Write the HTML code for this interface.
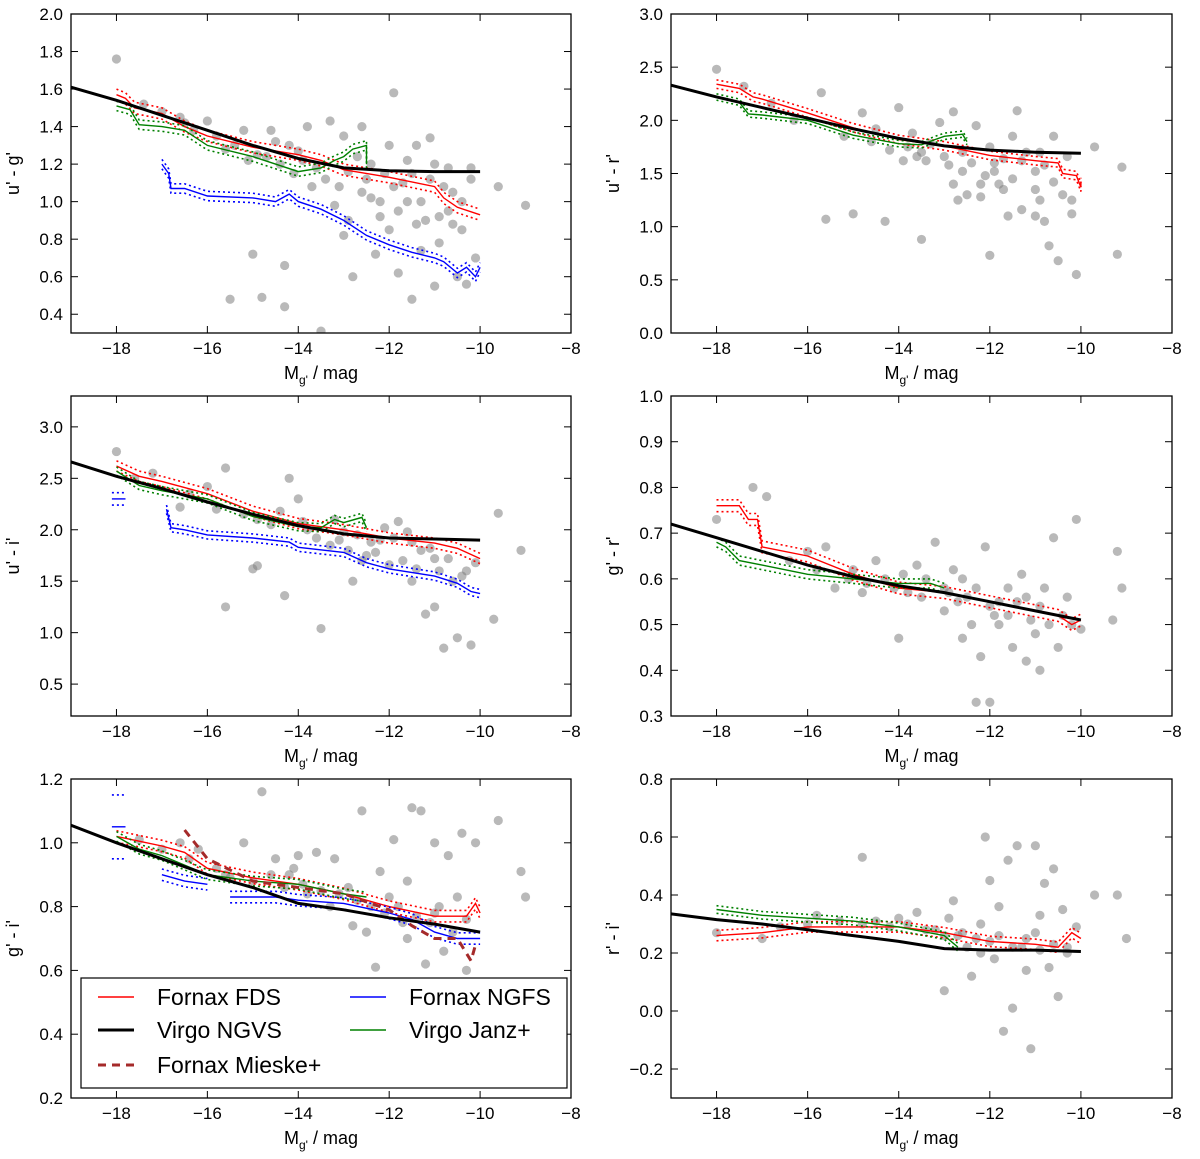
<!DOCTYPE html>
<html><head><meta charset="utf-8">
<style>
html,body{margin:0;padding:0;background:#fff;}
svg{display:block;font-family:"Liberation Sans","DejaVu Sans",sans-serif;}
</style></head>
<body>
<svg id="chart" width="1200" height="1159" viewBox="0 0 1200 1159" xmlns="http://www.w3.org/2000/svg"></svg>
<script>
// ===== Data =====
// Panel 1: u'-g'
const p1ScatX=[-18,-17.4,-17,-16.5,-16,-15.8,-15.5,-15.2,-15,-14.8,-14.6,-14.3,-14.3,-14.2,-14,-13.8,-13.5,-13.6,-13.3,-13,-13,-12.8,-12.6,-12.5,-12.4,-12.2,-12,-12,-11.9,-11.8,-11.7,-11.6,-11.5,-11.4,-11.3,-11.2,-11,-11,-10.9,-10.7,-10.6,-10.5,-10.4,-10.3,-10.2,-10.1,-9.6,-9.0,-12.3,-12.7,-13.2,-11.1,-15.6,-16.3,-14.9,
 -15.4,-15.1,-14.7,-14.4,-14.1,-13.9,-13.4,-13.1,-12.9,-12.6,-12.4,-12.1,-11.9,-11.8,-11.6,-11.5,-11.3,-11.1,-10.9,-10.8,-10.6,-10.4,-10.2,-12.2,-11.4,-10.7,-12.9,-13.7,-14.5,-16.6];
const p1ScatY=[1.76,1.52,1.48,1.42,1.43,1.35,0.48,1.38,0.72,0.49,1.38,0.66,0.44,1.30,1.27,1.40,0.31,1.18,1.43,1.35,0.82,0.60,1.40,1.12,1.02,0.92,1.30,0.85,1.58,0.62,1.10,1.00,0.48,1.30,0.74,0.90,1.20,0.55,0.78,1.18,0.88,0.60,1.00,0.56,1.12,0.70,1.08,0.98,0.72,1.24,0.98,1.34,1.28,1.38,1.25,
 1.30,1.22,1.24,1.20,1.15,1.22,1.12,1.08,1.16,1.05,1.20,1.15,1.08,0.95,1.22,1.15,1.00,1.12,0.92,1.08,1.05,0.85,1.18,1.00,0.88,0.95,0.90,1.08,1.32,1.45];
const p1BlackX=[-19,-18,-17,-16,-15,-14,-13,-12,-11,-10];
const p1BlackY=[1.61,1.54,1.46,1.38,1.30,1.23,1.18,1.165,1.16,1.16];
const p1RedX=[-18,-17.8,-17.6,-17,-16.5,-16,-15,-14,-13.5,-13,-12,-11,-10.8,-10.5,-10];
const p1RedY=[1.57,1.55,1.50,1.47,1.40,1.35,1.29,1.25,1.22,1.17,1.13,1.08,1.02,0.97,0.93];
const p1GreenX=[-18,-17.7,-17.5,-17,-16.5,-16,-15,-14.5,-14,-13.5,-13.2,-13,-12.8,-12.5,-12.5];
const p1GreenY=[1.51,1.49,1.41,1.40,1.38,1.30,1.24,1.20,1.16,1.18,1.22,1.24,1.28,1.30,1.20];
const p1BlueX=[-17,-16.85,-16.8,-16.5,-16,-15,-14.5,-14.2,-14,-13.5,-13,-12.5,-12,-11.5,-11,-10.8,-10.5,-10.3,-10.1,-10];
const p1BlueY=[1.20,1.15,1.07,1.07,1.03,1.02,1.00,1.04,1.00,0.96,0.90,0.82,0.77,0.73,0.70,0.68,0.62,0.65,0.60,0.65];

// Panel 2: u'-r'
const p2ScatX=[-18,-17.4,-16.8,-16.3,-15.7,-15.6,-15,-14.8,-14.5,-14.3,-14,-13.7,-13.5,-13.4,-13,-12.8,-12.6,-12.5,-12.2,-12,-12,-11.8,-11.6,-11.5,-11.4,-11.3,-11,-11,-10.8,-10.7,-10.6,-10.5,-10.3,-10.2,-10.1,-9.7,-9.1,-9.2,-13.1,-12.3,-11.9,-10.9,-12.7,-11.7,-13.8,
 -15.2,-14.6,-14.2,-13.9,-13.6,-13.3,-12.9,-12.6,-12.4,-12.1,-11.9,-11.7,-11.5,-11.2,-11,-10.8,-10.6,-10.4,-10.2,-12.8,-11.3,-10.9,-13.5,-12.2];
const p2ScatY=[2.48,2.32,2.16,2.00,2.26,1.07,1.12,2.07,1.92,1.05,2.12,1.88,0.88,1.62,1.66,2.08,1.52,1.30,1.28,1.75,0.73,1.40,1.10,1.85,2.09,1.16,1.52,1.10,1.05,0.82,1.85,0.68,1.66,1.12,0.55,1.75,1.56,0.74,1.98,1.95,1.60,1.70,1.25,1.35,1.75,
 1.85,1.80,1.72,1.62,1.66,1.78,1.58,1.70,1.60,1.48,1.52,1.64,1.45,1.70,1.35,1.58,1.42,1.30,1.25,1.40,1.62,1.25,1.70,1.40];
const p2BlackX=[-19,-18,-17,-16,-15,-14,-13,-12,-11,-10];
const p2BlackY=[2.33,2.22,2.12,2.02,1.92,1.83,1.76,1.72,1.70,1.69];
const p2RedX=[-18,-17.5,-17.2,-17,-16,-15,-14,-13,-12,-11,-10.5,-10.4,-10.1,-10,-10];
const p2RedY=[2.34,2.30,2.22,2.20,2.07,1.93,1.82,1.76,1.67,1.62,1.60,1.50,1.48,1.37,1.42];
const p2GreenX=[-18,-17.5,-17.3,-17,-16,-15,-14,-13.5,-13.2,-13,-12.6,-12.5];
const p2GreenY=[2.22,2.17,2.06,2.05,2.00,1.86,1.78,1.77,1.82,1.85,1.87,1.80];

// Panel 3: u'-i'
const p3ScatX=[-18,-17.6,-17.2,-16.6,-16,-15.6,-15.6,-15,-14.9,-14.3,-14.2,-14,-13.5,-13.2,-13,-12.8,-12.6,-12.2,-12,-11.8,-11.5,-11.3,-11.2,-11,-11,-10.8,-10.6,-10.5,-10.3,-10.2,-9.6,-9.1,-9.7,-14.9,-12.4,-13.8,-11.6,-12.9,
 -16.4,-15.8,-15.2,-14.6,-14.4,-13.9,-13.6,-13.3,-12.7,-12.5,-12.1,-11.9,-11.7,-11.4,-11.1,-10.9,-10.7,-10.4,-10.1,-12.3,-11.5,-13.1];
const p3ScatY=[2.76,2.50,2.55,2.22,2.42,2.60,1.25,1.62,2.10,1.36,2.50,2.30,1.04,2.10,1.98,1.50,1.70,1.90,1.66,2.08,1.50,1.80,1.18,1.72,1.25,0.85,1.50,0.95,1.60,0.88,2.16,1.80,1.13,1.65,1.88,2.0,1.98,1.80,
 2.35,2.20,2.15,2.05,2.18,2.08,1.92,1.85,1.95,1.75,2.02,1.92,1.70,1.62,1.82,1.60,1.72,1.55,1.68,1.78,1.88,1.90];
const p3BlackX=[-19,-18,-17,-16,-15,-14,-13,-12,-11,-10];
const p3BlackY=[2.66,2.52,2.40,2.27,2.15,2.04,1.96,1.92,1.91,1.90];
const p3RedX=[-18,-17.5,-17,-16,-15,-14,-13,-12,-11,-10.5,-10];
const p3RedY=[2.62,2.52,2.47,2.35,2.18,2.06,2.00,1.92,1.87,1.82,1.72];
const p3GreenX=[-18,-17.5,-17,-16,-15,-14,-13.5,-13.2,-13,-12.6,-12.5];
const p3GreenY=[2.57,2.43,2.38,2.30,2.13,2.03,2.02,2.10,2.07,2.12,2.02];
const p3BlueAX=[-18.1,-17.8];
const p3BlueAY=[2.30,2.30];
const p3BlueX=[-16.9,-16.8,-16.5,-16,-15,-14.2,-14,-13,-12.5,-12,-11,-10.5,-10.2,-10];
const p3BlueY=[2.20,2.02,2.00,1.95,1.92,1.88,1.83,1.78,1.68,1.62,1.55,1.48,1.40,1.38];

// Panel 4: g'-r'
const p4ScatX=[-18,-17.2,-16.9,-16,-15.6,-15.4,-15,-14.8,-14.5,-14.1,-14,-13.6,-13.5,-13.2,-13,-12.8,-12.6,-12.4,-12.2,-12.1,-12,-12.3,-11.8,-11.6,-11.5,-11.3,-11.2,-11,-10.9,-10.8,-10.6,-10.5,-10.3,-10.1,-10.0,-9.3,-9.2,-9.1,-13.9,-12.9,-11.9,
 -16.4,-15.8,-15.1,-14.7,-14.3,-13.8,-13.4,-13.0,-12.7,-12.5,-12.3,-12.0,-11.8,-11.6,-11.4,-11.1,-10.9,-10.7,-10.4,-10.2,-12.6,-11.2];
const p4ScatY=[0.73,0.80,0.78,0.66,0.67,0.58,0.62,0.57,0.64,0.58,0.47,0.63,0.56,0.68,0.53,0.62,0.47,0.50,0.43,0.67,0.33,0.33,0.55,0.58,0.45,0.61,0.42,0.48,0.40,0.58,0.69,0.45,0.56,0.73,0.49,0.51,0.66,0.58,0.61,0.57,0.52,
 0.64,0.62,0.60,0.59,0.60,0.57,0.60,0.58,0.55,0.56,0.58,0.54,0.50,0.52,0.55,0.51,0.54,0.50,0.52,0.50,0.60,0.56];
const p4BlackX=[-19,-18,-17,-16,-15,-14,-13,-12,-11,-10];
const p4BlackY=[0.72,0.69,0.66,0.63,0.605,0.585,0.57,0.55,0.53,0.51];
const p4RedX=[-18,-17.5,-17.3,-17.1,-17,-16,-15,-14,-13,-12,-11,-10.5,-10.2,-10];
const p4RedY=[0.76,0.76,0.73,0.73,0.67,0.65,0.61,0.58,0.57,0.55,0.53,0.52,0.50,0.51];
const p4GreenX=[-18,-17.8,-17.5,-17,-16,-15,-14,-13.3,-13];
const p4GreenY=[0.68,0.67,0.64,0.63,0.61,0.60,0.59,0.59,0.58];

// Panel 5: g'-i'
const p5ScatX=[-17.5,-16.6,-15.8,-15.2,-14.8,-14.5,-14.2,-14,-13.6,-13.2,-12.8,-12.5,-12.3,-12,-11.9,-11.7,-11.5,-11.3,-11.2,-11,-11,-10.8,-10.7,-10.5,-10.4,-10.3,-10.1,-9.6,-9.1,-9.0,-12.6,-13.8,-15.5,-16.2,-11.6,-12.2,
 -17,-16.4,-15.6,-15,-14.6,-14.3,-13.9,-13.5,-13.1,-12.7,-12.4,-12.1,-11.8,-11.4,-11.1,-10.9,-10.6,-10.3,-12.9,-13.3,-14.1,-11.6];
const p5ScatY=[1.01,1.00,0.92,1.00,1.16,0.95,0.90,0.96,0.97,0.95,0.74,0.72,0.61,0.83,1.01,0.75,1.11,1.10,0.62,0.78,1.00,0.66,0.96,0.83,1.03,0.60,1.00,1.07,0.91,0.83,1.10,0.84,0.89,0.98,0.88,0.91,
 0.98,0.95,0.90,0.88,0.90,0.86,0.87,0.85,0.84,0.82,0.80,0.78,0.80,0.77,0.75,0.80,0.72,0.76,0.86,0.80,0.92,0.70];
const p5BlackX=[-19,-18,-17,-16,-15,-14,-13,-12,-11,-10];
const p5BlackY=[1.055,1.0,0.95,0.90,0.86,0.81,0.79,0.765,0.745,0.72];
const p5RedX=[-18,-17,-16.5,-16,-15,-14,-13,-12,-11,-10.3,-10.1,-10];
const p5RedY=[1.02,0.99,0.97,0.92,0.89,0.87,0.84,0.80,0.77,0.77,0.81,0.78];
const p5GreenX=[-18,-17.5,-17,-16,-15,-14,-13,-12.5];
const p5GreenY=[1.02,0.98,0.96,0.90,0.88,0.87,0.84,0.83];
const p5BlueAX=[-18.1,-17.8];
const p5BlueAY=[1.05,1.05];
const p5BlueBX=[-17,-16.5,-16];
const p5BlueBY=[0.90,0.88,0.87];
const p5BlueX=[-15.5,-14.5,-14,-13,-12,-11.5,-11,-10.5,-10];
const p5BlueY=[0.83,0.83,0.82,0.81,0.78,0.76,0.72,0.70,0.70];
const p5MieskeX=[-16.5,-16,-15,-14,-13,-12,-11.5,-11,-10.5,-10.2,-10.1];
const p5MieskeY=[1.04,0.95,0.88,0.86,0.84,0.79,0.74,0.70,0.70,0.63,0.68];

// Panel 6: r'-i'
const p6ScatX=[-18,-17,-16.6,-15.8,-14.8,-14.5,-14,-13.6,-13.2,-13,-12.8,-12.5,-12.4,-12.2,-12.1,-12,-11.9,-11.7,-11.6,-11.4,-11.3,-11.2,-11.1,-11,-10.9,-10.8,-10.7,-10.6,-10.5,-10.4,-10.3,-10.1,-9.7,-9.2,-9.0,-11.5,-12.7,-11.8,
 -16,-15.3,-14.8,-14.2,-13.8,-13.4,-13,-12.6,-12.3,-12,-11.8,-11.5,-11.2,-10.9,-10.6,-10.3,-12.9,-11,-12.2];
const p6ScatY=[0.27,0.25,0.29,0.33,0.53,0.31,0.32,0.34,0.28,0.07,0.38,0.22,0.12,0.30,0.60,0.45,0.18,-0.07,0.52,0.57,0.22,0.14,-0.13,0.57,0.33,0.44,0.15,0.49,0.05,0.35,0.22,0.29,0.40,0.40,0.25,0.01,0.26,0.36,
 0.30,0.31,0.30,0.29,0.30,0.28,0.26,0.27,0.25,0.24,0.26,0.22,0.25,0.21,0.23,0.20,0.32,0.27,0.20];
const p6BlackX=[-19,-18,-17,-16,-15,-14,-13,-12,-11,-10];
const p6BlackY=[0.335,0.315,0.30,0.28,0.26,0.24,0.215,0.21,0.21,0.205];
const p6RedX=[-18,-17,-16,-15,-14,-13,-12,-11,-10.5,-10.2,-10];
const p6RedY=[0.26,0.27,0.29,0.29,0.29,0.27,0.24,0.23,0.22,0.27,0.25];
const p6GreenX=[-18,-17,-16,-15,-14,-13,-12.7];
const p6GreenY=[0.35,0.33,0.32,0.31,0.29,0.26,0.22];

const xTicks=[-18,-16,-14,-12,-10,-8];
const p1Ticks=[0.4,0.6,0.8,1.0,1.2,1.4,1.6,1.8,2.0];
const p2Ticks=[0.0,0.5,1.0,1.5,2.0,2.5,3.0];
const p3Ticks=[0.5,1.0,1.5,2.0,2.5,3.0];
const p4Ticks=[0.3,0.4,0.5,0.6,0.7,0.8,0.9,1.0];
const p5Ticks=[0.2,0.4,0.6,0.8,1.0,1.2];
const p6Ticks=[-0.2,0.0,0.2,0.4,0.6,0.8];

// ===== Drawing =====
const NS="http://www.w3.org/2000/svg";
const svg=document.getElementById('chart');
function mk(tag,attrs,parent){const e=document.createElementNS(NS,tag);for(const k in attrs)e.setAttribute(k,attrs[k]);(parent||svg).appendChild(e);return e;}

const panels=[
 {id:'u-g',x0:71,x1:571,y0:14,y1:333,ymin:0.3,ymax:2.0,ticks:p1Ticks,dec:1,label:"u' - g'",scat:[p1ScatX,p1ScatY],
  lines:[[p1RedX,p1RedY,'red',0.03],[p1GreenX,p1GreenY,'green',0.025],[p1BlueX,p1BlueY,'blue',0.025],[p1BlackX,p1BlackY,'black',0]]},
 {id:'u-r',x0:671,x1:1172,y0:14,y1:333,ymin:0.0,ymax:3.0,ticks:p2Ticks,dec:1,label:"u' - r'",scat:[p2ScatX,p2ScatY],
  lines:[[p2RedX,p2RedY,'red',0.04],[p2GreenX,p2GreenY,'green',0.03],[p2BlackX,p2BlackY,'black',0]]},
 {id:'u-i',x0:71,x1:571,y0:396,y1:716,ymin:0.19,ymax:3.3,ticks:p3Ticks,dec:1,label:"u' - i'",scat:[p3ScatX,p3ScatY],
  lines:[[p3RedX,p3RedY,'red',0.05],[p3GreenX,p3GreenY,'green',0.04],[p3BlueAX,p3BlueAY,'blue',0.06],[p3BlueX,p3BlueY,'blue',0.04],[p3BlackX,p3BlackY,'black',0]]},
 {id:'g-r',x0:671,x1:1172,y0:396,y1:716,ymin:0.3,ymax:1.0,ticks:p4Ticks,dec:1,label:"g' - r'",scat:[p4ScatX,p4ScatY],
  lines:[[p4RedX,p4RedY,'red',0.013],[p4GreenX,p4GreenY,'green',0.01],[p4BlackX,p4BlackY,'black',0]]},
 {id:'g-i',x0:71,x1:571,y0:779,y1:1098,ymin:0.2,ymax:1.2,ticks:p5Ticks,dec:1,label:"g' - i'",scat:[p5ScatX,p5ScatY],
  lines:[[p5RedX,p5RedY,'red',0.018],[p5GreenX,p5GreenY,'green',0.015],[p5BlueAX,p5BlueAY,'blue',0.1],[p5BlueBX,p5BlueBY,'blue',0.018],[p5BlueX,p5BlueY,'blue',0.018],[p5MieskeX,p5MieskeY,'#a52a2a',-1],[p5BlackX,p5BlackY,'black',0]]},
 {id:'r-i',x0:671,x1:1172,y0:779,y1:1098,ymin:-0.3,ymax:0.8,ticks:p6Ticks,dec:1,label:"r' - i'",scat:[p6ScatX,p6ScatY],
  lines:[[p6RedX,p6RedY,'red',0.018],[p6GreenX,p6GreenY,'green',0.013],[p6BlackX,p6BlackY,'black',0]]}
];

panels.forEach(p=>{
  const g=mk('g',{});
  
  
  const sx=v=>p.x0+(v-(-19))/11*(p.x1-p.x0);
  const sy=v=>p.y1-(v-p.ymin)/(p.ymax-p.ymin)*(p.y1-p.y0);
  const clipId='clip-'+p.id;
  const cp=mk('clipPath',{id:clipId},g);
  mk('rect',{x:p.x0,y:p.y0,width:p.x1-p.x0,height:p.y1-p.y0},cp);
  const plot=mk('g',{'clip-path':'url(#'+clipId+')'},g);
  const sg=mk('g',{},plot);
  
  
  p.scat[0].forEach((x,i)=>{
    const c=mk('circle',{cx:sx(x),cy:sy(p.scat[1][i]),r:4.6,fill:'#808080','fill-opacity':0.55},sg);
    
    
  });
  p.lines.forEach(l=>{
    const [xs,ys,col,err]=l;
    const pts=(o)=>xs.map((x,i)=>sx(x).toFixed(1)+','+sy(ys[i]+o).toFixed(1)).join(' ');
    if(err>0){
      [err,-err].forEach(o=>{
        const b=mk('polyline',{points:pts(o),fill:'none',stroke:col,'stroke-width':1.6,'stroke-dasharray':'2,3'},plot);
        
        
      });
    }
    const isM=err<0, isB=col==='black';
    const pl=mk('polyline',{points:pts(0),fill:'none',stroke:col,'stroke-width':isB?3:(isM?3:1.4),'stroke-dasharray':isM?'8,6':'none'},plot);
    
    
  });
  const fr=mk('rect',{x:p.x0,y:p.y0,width:p.x1-p.x0,height:p.y1-p.y0,fill:'none',stroke:'#000','stroke-width':1.3},g);
  
  
  xTicks.forEach(t=>{
    const X=sx(t);
    mk('line',{x1:X,x2:X,y1:p.y1,y2:p.y1-7,stroke:'#000','stroke-width':1},g);
    mk('line',{x1:X,x2:X,y1:p.y0,y2:p.y0+7,stroke:'#000','stroke-width':1},g);
    const tx=mk('text',{x:X,y:p.y1+21,'text-anchor':'middle','font-size':17},g);
    tx.textContent=(t<0?'\u2212':'')+Math.abs(t);
    
    
  });
  p.ticks.forEach(t=>{
    const Y=sy(t);
    mk('line',{x1:p.x0,x2:p.x0+7,y1:Y,y2:Y,stroke:'#000','stroke-width':1},g);
    mk('line',{x1:p.x1,x2:p.x1-7,y1:Y,y2:Y,stroke:'#000','stroke-width':1},g);
    const tx=mk('text',{x:p.x0-8,y:Y+6,'text-anchor':'end','font-size':17},g);
    tx.textContent=(t<0?'\u2212':'')+Math.abs(t).toFixed(p.dec);
    
    
  });
  const xl=mk('text',{x:(p.x0+p.x1)/2,y:p.y1+46,'text-anchor':'middle','font-size':18},g);
  xl.innerHTML="M<tspan font-size='12' dy='5'>g'</tspan><tspan dy='-5'> / mag</tspan>";
  
  
  const cy=(p.y0+p.y1)/2;
  const yl=mk('text',{x:0,y:0,'text-anchor':'middle','font-size':18,transform:`translate(${p.x0-52},${cy}) rotate(-90)`},g);
  yl.textContent=p.label;
  
  
});

const lg=mk('g',{});


mk('rect',{x:81,y:978,width:486,height:110,fill:'#fff',stroke:'#000','stroke-width':1.2},lg);
const entries=[
 [98,997,'red',1.4,'none','Fornax FDS','legend-fornax-fds'],
 [350,997,'blue',1.4,'none','Fornax NGFS','legend-fornax-ngfs'],
 [98,1030,'black',3,'none','Virgo NGVS','legend-virgo-ngvs'],
 [350,1030,'green',1.4,'none','Virgo Janz+','legend-virgo-janz'],
 [98,1065,'#a52a2a',3,'8,6','Fornax Mieske+','legend-fornax-mieske']
];
entries.forEach(e=>{
  const eg=mk('g',{},lg);
  
  
  mk('line',{x1:e[0],x2:e[0]+36,y1:e[1],y2:e[1],stroke:e[2],'stroke-width':e[3],'stroke-dasharray':e[4]},eg);
  const t=mk('text',{x:e[0]+59,y:e[1]+8,'font-size':23},eg);
  t.textContent=e[5];
});
</script>
</body></html>
